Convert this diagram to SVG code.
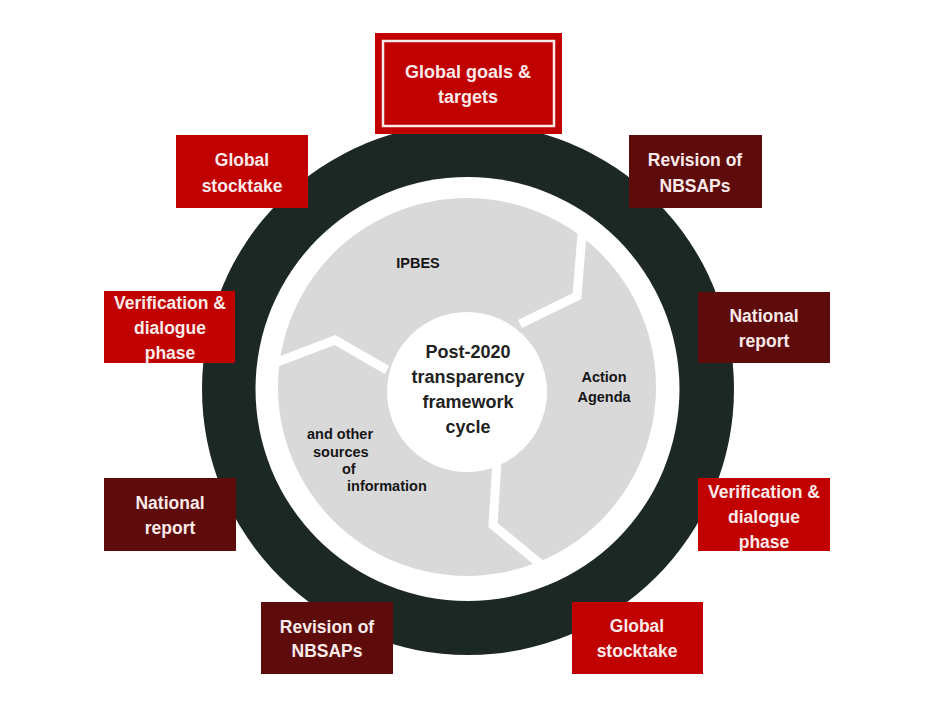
<svg xmlns="http://www.w3.org/2000/svg" width="943" height="720" viewBox="0 0 943 720">
<style>
.red{fill:#c10000}
.maroon{fill:#5e0b0b}
.bt{font-family:"Liberation Sans",Arial,sans-serif;font-weight:bold;font-size:17.5px;fill:#fbeaea;text-anchor:middle}
.st{font-family:"Liberation Sans",Arial,sans-serif;font-weight:bold;font-size:14.5px;fill:#151515}
.ct{font-family:"Liberation Sans",Arial,sans-serif;font-weight:bold;font-size:18px;fill:#222222;text-anchor:middle}
.gap{fill:none;stroke:#ffffff;stroke-width:9;stroke-linejoin:miter}
</style>
<rect width="943" height="720" fill="#ffffff"/>
<g id="wheel">
<circle cx="468" cy="389" r="266" fill="#1c2824"/>
<circle cx="467.5" cy="389" r="212" fill="#ffffff"/>
<circle cx="467" cy="387" r="189" fill="#d9d9d9"/>
</g>
<g id="connectors">
<polyline class="gap" points="520,324 577,296 583,222"/>
<polyline class="gap" points="387,370 335,340 272,364"/>
<polyline class="gap" points="497,462 493,525 545,568"/>
</g>
<g id="center">
<circle cx="467" cy="392" r="80" fill="#ffffff"/>
<text class="ct" x="468" y="358">Post-2020</text>
<text class="ct" x="468" y="383">transparency</text>
<text class="ct" x="468" y="408">framework</text>
<text class="ct" x="468" y="433">cycle</text>
</g>
<g id="seg-ipbes"><text class="st" x="418" y="268" text-anchor="middle">IPBES</text></g>
<g id="seg-action">
<text class="st" x="604" y="382" text-anchor="middle">Action</text>
<text class="st" x="604" y="402" text-anchor="middle">Agenda</text>
</g>
<g id="seg-other">
<text class="st" x="307" y="439">and other</text>
<text class="st" x="313" y="457">sources</text>
<text class="st" x="342" y="474">of</text>
<text class="st" x="347" y="491">information</text>
</g>
<g id="n-goals">
<rect class="red" x="375" y="33" width="187" height="101"/>
<rect x="383" y="41" width="171" height="85" fill="none" stroke="#fbeaea" stroke-width="2.5"/>
<text class="bt" x="468" y="78" style="font-size:18px">Global goals &amp;</text>
<text class="bt" x="468" y="103" style="font-size:18px">targets</text>
</g>
<g id="n-stocktake-tl">
<rect class="red" x="176" y="135" width="132" height="73"/>
<text class="bt" x="242" y="166">Global</text>
<text class="bt" x="242" y="192">stocktake</text>
</g>
<g id="n-revision-tr">
<rect class="maroon" x="629" y="135" width="133" height="73"/>
<text class="bt" x="695" y="166">Revision of</text>
<text class="bt" x="695" y="192">NBSAPs</text>
</g>
<g id="n-verif-l">
<rect class="red" x="104" y="291" width="131" height="72"/>
<text class="bt" x="170" y="309">Verification &amp;</text>
<text class="bt" x="170" y="334">dialogue</text>
<text class="bt" x="170" y="359">phase</text>
</g>
<g id="n-national-r">
<rect class="maroon" x="698" y="292" width="132" height="71"/>
<text class="bt" x="764" y="322">National</text>
<text class="bt" x="764" y="347">report</text>
</g>
<g id="n-national-l">
<rect class="maroon" x="104" y="478" width="132" height="73"/>
<text class="bt" x="170" y="509">National</text>
<text class="bt" x="170" y="534">report</text>
</g>
<g id="n-verif-r">
<rect class="red" x="698" y="478" width="132" height="73"/>
<text class="bt" x="764" y="498">Verification &amp;</text>
<text class="bt" x="764" y="523">dialogue</text>
<text class="bt" x="764" y="548">phase</text>
</g>
<g id="n-revision-bl">
<rect class="maroon" x="261" y="602" width="132" height="72"/>
<text class="bt" x="327" y="633">Revision of</text>
<text class="bt" x="327" y="657">NBSAPs</text>
</g>
<g id="n-stocktake-br">
<rect class="red" x="572" y="602" width="131" height="72"/>
<text class="bt" x="637" y="632">Global</text>
<text class="bt" x="637" y="657">stocktake</text>
</g>
</svg>
